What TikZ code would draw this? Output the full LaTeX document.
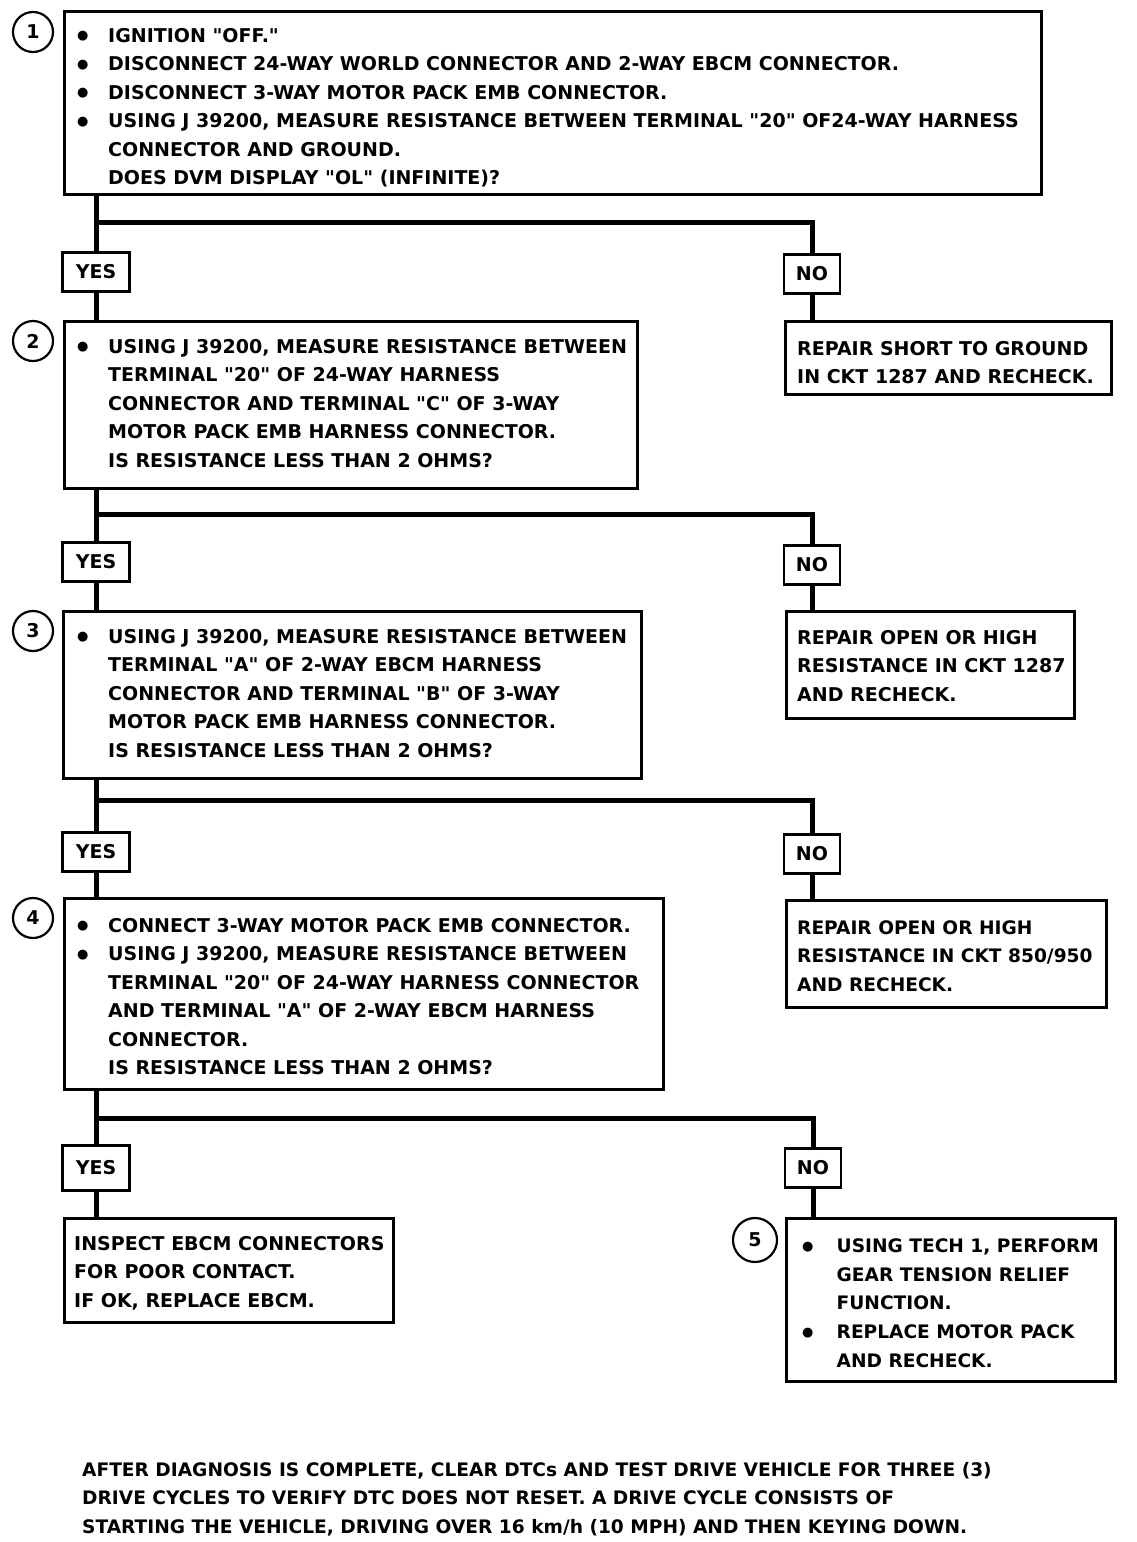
\documentclass[tikz,border=0pt]{standalone}
\usepackage{fontspec}
\setmainfont{DejaVu Sans}[Ligatures=TeXOff]
\newcommand\bul[1][32pt]{\makebox[#1][l]{\hspace*{1pt}\raisebox{2.2pt}{\fontsize{13}{13}\selectfont ●}}}
\newcommand\ind[1][32pt]{\hspace*{#1}}
\begin{document}
\begin{tikzpicture}[x=1pt,y=-1pt,
  box/.style={draw, line width=3pt, rectangle, anchor=north west, inner sep=0pt},
  txt/.style={anchor=north west, inner sep=0pt, align=left, font=\fontsize{19}{28.5}\selectfont\bfseries},
  lab/.style={draw, line width=2.5pt, rectangle, minimum height=39pt, inner sep=0pt, font=\fontsize{19}{24}\selectfont\bfseries},
  num/.style={draw, line width=2.2pt, circle, minimum size=40pt, inner sep=0pt, font=\fontsize{19}{20}\selectfont\bfseries},
  link/.style={line width=5pt}]
\useasboundingbox (0,0) rectangle (1136,1542);
\fill[white] (0,0) rectangle (1136,1542);

% step boxes
\node[box, minimum width=977pt, minimum height=183pt] (b1) at (63,10) {};
\node[box, minimum width=573pt, minimum height=167pt] (b2) at (63,320) {};
\node[box, minimum width=578pt, minimum height=167pt] (b3) at (62,610) {};
\node[box, minimum width=599pt, minimum height=191pt] (b4) at (63,897) {};
\node[box, minimum width=326pt, minimum height=73pt] (r1) at (784,320) {};
\node[box, minimum width=288pt, minimum height=107pt] (r2) at (785,610) {};
\node[box, minimum width=320pt, minimum height=107pt] (r3) at (785,899) {};
\node[box, minimum width=329pt, minimum height=104pt] (ins) at (63,1217) {};
\node[box, minimum width=329pt, minimum height=163pt] (b5) at (785,1217) {};

% texts
\node[txt, xshift=13pt, yshift=-12pt] (t1) at (b1.north west) {\begin{tabular}{@{}l@{}}
\bul IGNITION "OFF."\\
\bul DISCONNECT 24-WAY WORLD CONNECTOR AND 2-WAY EBCM CONNECTOR.\\
\bul DISCONNECT 3-WAY MOTOR PACK EMB CONNECTOR.\\
\bul USING J 39200, MEASURE RESISTANCE BETWEEN TERMINAL "20" OF24-WAY HARNESS\\
\ind CONNECTOR AND GROUND.\\
\ind DOES DVM DISPLAY "OL" (INFINITE)?
\end{tabular}};
\node[txt, xshift=13pt, yshift=-13pt] (t2) at (b2.north west) {\begin{tabular}{@{}l@{}}
\bul USING J 39200, MEASURE RESISTANCE BETWEEN\\
\ind TERMINAL "20" OF 24-WAY HARNESS\\
\ind CONNECTOR AND TERMINAL "C" OF 3-WAY\\
\ind MOTOR PACK EMB HARNESS CONNECTOR.\\
\ind IS RESISTANCE LESS THAN 2 OHMS?
\end{tabular}};
\node[txt, xshift=14pt, yshift=-13pt] (t3) at (b3.north west) {\begin{tabular}{@{}l@{}}
\bul USING J 39200, MEASURE RESISTANCE BETWEEN\\
\ind TERMINAL "A" OF 2-WAY EBCM HARNESS\\
\ind CONNECTOR AND TERMINAL "B" OF 3-WAY\\
\ind MOTOR PACK EMB HARNESS CONNECTOR.\\
\ind IS RESISTANCE LESS THAN 2 OHMS?
\end{tabular}};
\node[txt, xshift=13pt, yshift=-15pt] (t4) at (b4.north west) {\begin{tabular}{@{}l@{}}
\bul CONNECT 3-WAY MOTOR PACK EMB CONNECTOR.\\
\bul USING J 39200, MEASURE RESISTANCE BETWEEN\\
\ind TERMINAL "20" OF 24-WAY HARNESS CONNECTOR\\
\ind AND TERMINAL "A" OF 2-WAY EBCM HARNESS\\
\ind CONNECTOR.\\
\ind IS RESISTANCE LESS THAN 2 OHMS?
\end{tabular}};
\node[txt, xshift=13pt, yshift=-15pt] (tr1) at (r1.north west) {\begin{tabular}{@{}l@{}}
REPAIR SHORT TO GROUND\\
IN CKT 1287 AND RECHECK.
\end{tabular}};
\node[txt, xshift=12pt, yshift=-14pt] (tr2) at (r2.north west) {\begin{tabular}{@{}l@{}}
REPAIR OPEN OR HIGH\\
RESISTANCE IN CKT 1287\\
AND RECHECK.
\end{tabular}};
\node[txt, xshift=12pt, yshift=-15pt, font=\fontsize{18.6}{28.5}\selectfont\bfseries] (tr3) at (r3.north west) {\begin{tabular}{@{}l@{}}
REPAIR OPEN OR HIGH\\
RESISTANCE IN CKT 850/950\\
AND RECHECK.
\end{tabular}};
\node[txt, xshift=11pt, yshift=-13pt] (tins) at (ins.north west) {\begin{tabular}{@{}l@{}}
INSPECT EBCM CONNECTORS\\
FOR POOR CONTACT.\\
IF OK, REPLACE EBCM.
\end{tabular}};
\node[txt, xshift=16pt, yshift=-15pt, font=\fontsize{18.6}{28.8}\selectfont\bfseries] (t5) at (b5.north west) {\begin{tabular}{@{}l@{}}
\bul[29pt] USING TECH 1, PERFORM\\
\ind[29pt] GEAR TENSION RELIEF\\
\ind[29pt] FUNCTION.\\
\bul[29pt] REPLACE MOTOR PACK\\
\ind[29pt] AND RECHECK.
\end{tabular}};

% step numbers
\node[num] (c1) at (33,32) {1};
\node[num] (c2) at (33,341) {2};
\node[num] (c3) at (33,631) {3};
\node[num] (c4) at (33,918) {4};
\node[num, minimum size=44pt] (c5) at (755,1240) {5};

% yes / no labels
\node[lab, minimum width=67pt] (y1) at (96,272) {YES};
\node[lab, minimum width=56pt] (n1) at (812,274) {NO};
\node[lab, minimum width=67pt] (y2) at (96,562) {YES};
\node[lab, minimum width=56pt] (n2) at (812,565) {NO};
\node[lab, minimum width=67pt] (y3) at (96,852) {YES};
\node[lab, minimum width=56pt] (n3) at (812,854) {NO};
\node[lab, minimum width=67pt, minimum height=45pt] (y4) at (96,1168) {YES};
\node[lab, minimum width=56pt] (n4) at (813,1168) {NO};

% junction coordinates
\coordinate (j1) at (96,222);  \coordinate (k1) at (812,222);
\coordinate (j2) at (96,514);  \coordinate (k2) at (812,514);
\coordinate (j3) at (96,800);  \coordinate (k3) at (812,800);
\coordinate (j4) at (96,1118); \coordinate (k4) at (813,1118);

% connectors
\draw[link] (b1.south -| j1) -- (y1.north);
\draw[link] (j1) -- (k1) -- (n1.north);
\draw[link] (y1.south) -- (y1.south |- b2.north);
\draw[link] (n1.south) -- (n1.south |- r1.north);

\draw[link] (b2.south -| j2) -- (y2.north);
\draw[link] (j2) -- (k2) -- (n2.north);
\draw[link] (y2.south) -- (y2.south |- b3.north);
\draw[link] (n2.south) -- (n2.south |- r2.north);

\draw[link] (b3.south -| j3) -- (y3.north);
\draw[link] (j3) -- (k3) -- (n3.north);
\draw[link] (y3.south) -- (y3.south |- b4.north);
\draw[link] (n3.south) -- (n3.south |- r3.north);

\draw[link] (b4.south -| j4) -- (y4.north);
\draw[link] (j4) -- (k4) -- (n4.north);
\draw[link] (y4.south) -- (y4.south |- ins.north);
\draw[link] (n4.south) -- (n4.south |- b5.north);

% footer
\node[txt, font=\fontsize{18.6}{28.5}\selectfont\bfseries] (foot) at (82,1456) {\begin{tabular}{@{}l@{}}
AFTER DIAGNOSIS IS COMPLETE, CLEAR DTCs AND TEST DRIVE VEHICLE FOR THREE (3)\\
DRIVE CYCLES TO VERIFY DTC DOES NOT RESET. A DRIVE CYCLE CONSISTS OF\\
STARTING THE VEHICLE, DRIVING OVER 16 km/h (10 MPH) AND THEN KEYING DOWN.
\end{tabular}};
\end{tikzpicture}
\end{document}
